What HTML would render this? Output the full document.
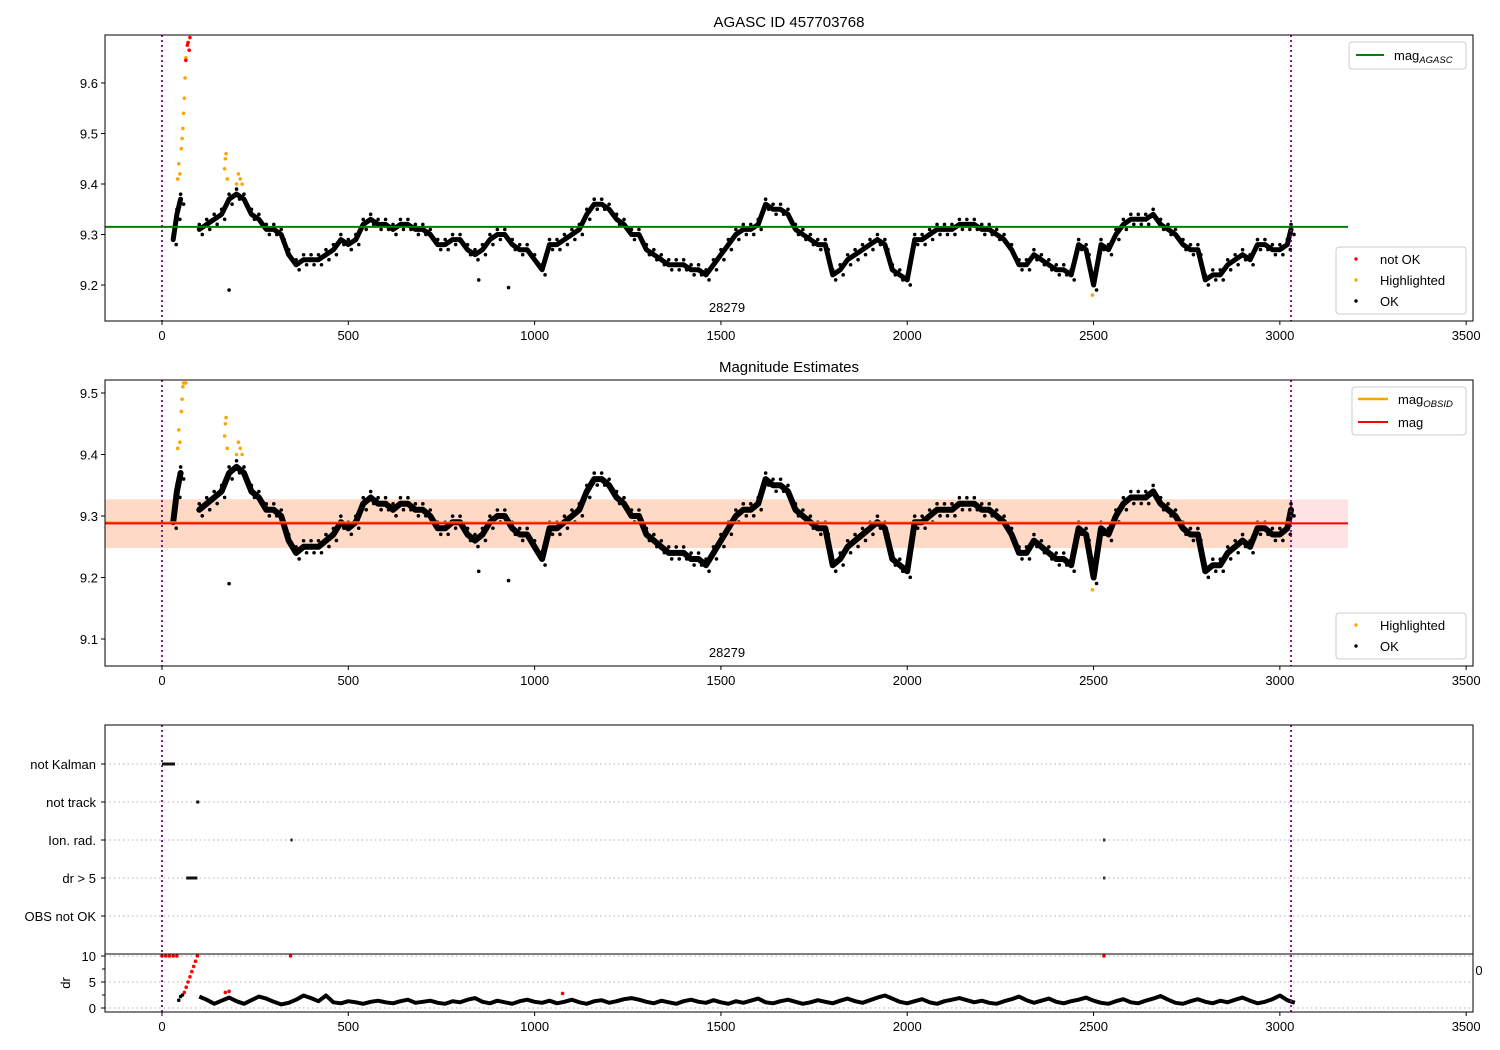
<!DOCTYPE html>
<html><head><meta charset="utf-8"><style>
body{margin:0;background:#fff}
svg{display:block;font-family:"Liberation Sans","DejaVu Sans",sans-serif}
</style></head><body>
<svg id="c" width="1500" height="1050" viewBox="0 0 1500 1050">
<g id="g"></g>
</svg>
<script>
// ---- data ----
const magT = [30,40,50,100,120,140,160,180,200,220,240,260,280,300,320,340,360,380,400,420,440,460,480,500,520,540,560,580,600,620,640,660,680,700,720,740,760,780,800,820,840,860,880,900,920,940,960,980,1000,1020,1040,1060,1080,1100,1120,1140,1160,1180,1200,1220,1240,1260,1280,1300,1320,1340,1360,1380,1400,1420,1440,1460,1480,1500,1520,1540,1560,1580,1600,1620,1640,1660,1680,1700,1720,1740,1760,1780,1800,1820,1840,1860,1880,1900,1920,1940,1960,1980,2000,2020,2040,2060,2080,2100,2120,2140,2160,2180,2200,2220,2240,2260,2280,2300,2320,2340,2360,2380,2400,2420,2440,2460,2480,2500,2520,2540,2560,2580,2600,2620,2640,2660,2680,2700,2720,2740,2760,2780,2800,2820,2840,2860,2880,2900,2920,2940,2960,2980,3000,3020,3030];
const magV = [9.29,9.34,9.37,9.31,9.32,9.33,9.34,9.37,9.38,9.37,9.34,9.33,9.31,9.31,9.30,9.26,9.24,9.25,9.25,9.25,9.26,9.27,9.29,9.28,9.29,9.32,9.33,9.32,9.32,9.31,9.32,9.32,9.31,9.31,9.30,9.28,9.28,9.29,9.29,9.27,9.26,9.27,9.29,9.30,9.30,9.28,9.27,9.27,9.25,9.23,9.28,9.28,9.29,9.30,9.31,9.34,9.36,9.36,9.35,9.33,9.32,9.30,9.30,9.27,9.26,9.25,9.24,9.24,9.24,9.23,9.23,9.22,9.24,9.26,9.28,9.30,9.31,9.31,9.32,9.36,9.35,9.35,9.34,9.31,9.30,9.29,9.28,9.28,9.22,9.23,9.25,9.26,9.27,9.28,9.29,9.28,9.23,9.22,9.21,9.29,9.29,9.30,9.31,9.31,9.31,9.32,9.32,9.32,9.31,9.31,9.30,9.29,9.27,9.24,9.24,9.26,9.25,9.24,9.23,9.23,9.22,9.28,9.27,9.20,9.28,9.27,9.30,9.32,9.33,9.33,9.33,9.34,9.32,9.31,9.30,9.28,9.27,9.27,9.21,9.22,9.22,9.24,9.25,9.26,9.25,9.28,9.28,9.27,9.27,9.28,9.31];
const outT = [180,850,930];
const outV = [9.19,9.21,9.195];
const hiT = [42,45,48,52,54,56,58,60,62,64,168,170,172,175,200,205,210,215,2497];
const hiV = [9.41,9.44,9.42,9.47,9.49,9.51,9.54,9.57,9.61,9.65,9.43,9.45,9.46,9.41,9.40,9.42,9.41,9.40,9.18];
const badT = [64,68,70,73,75];
const badV = [9.645,9.675,9.68,9.665,9.69];
const magAgasc = 9.315;
const magObs = 9.288, magLo = 9.248, magHi = 9.327;
const xTicks = [0,500,1000,1500,2000,2500,3000,3500];
const y1Ticks = [9.2,9.3,9.4,9.5,9.6];
const y2Ticks = [9.1,9.2,9.3,9.4,9.5];
const flagCats = ["not Kalman","not track","Ion. rad.","dr > 5","OBS not OK"];
const flagStart = [0,92,345,65,null];
const flagEnd = [35,100,347,95,null];
const flagExtraT = [null,null,2528,2528,null];
const drT = [0,10,20,30,40,45,50,55,60,65,70,75,80,85,90,95,170,180,345,1075,2528];
const drV = [10,10,10,10,10,1.5,2.2,2.5,3,4,5,6,7,8,9,10,3,3.2,10,2.8,10];
const drRed = [1,1,1,1,1,0,0,0,1,1,1,1,1,1,1,1,1,1,1,1,1];
const dr2T = [];
const dr2V = [2.2,1.6,0.8,1.4,2.0,1.3,0.8,1.5,2.2,1.8,1.2,0.7,1.0,1.6,2.4,1.9,1.3,2.4,1.1,0.9,1.3,1.1,0.8,1.2,1.4,1.1,0.9,1.3,1.6,1.0,1.2,1.4,1.0,0.8,1.3,1.1,1.6,1.9,1.2,0.9,1.4,1.1,0.8,1.3,1.6,1.2,1.0,1.4,0.9,1.2,1.6,1.1,0.8,1.3,1.5,1.0,1.3,1.7,1.9,1.6,1.2,0.9,1.4,1.1,0.8,1.3,1.6,1.2,1.0,1.5,1.1,0.8,1.3,1.0,1.4,1.8,1.1,0.9,1.3,1.6,1.2,0.8,1.1,1.5,1.2,0.9,1.4,1.8,1.3,1.0,1.5,2.0,2.4,1.8,1.2,0.9,1.3,1.7,1.1,0.8,1.3,1.6,1.9,1.5,1.1,1.4,1.0,0.8,1.3,1.7,2.2,1.5,1.0,1.4,1.8,1.2,0.9,1.3,1.6,2.0,1.4,1.0,0.8,1.3,1.7,1.1,0.9,1.4,1.8,2.3,1.6,1.0,0.8,1.3,1.7,1.2,0.9,1.4,1.1,1.6,2.0,1.4,0.9,1.2,1.7,2.4,1.5,1.0];
for(let i=0;i<dr2V.length;i++) dr2T.push(100+i*20);

// ---- scales ----
const X = t => 162 + t*0.37262;
const Y1 = m => 83 + (9.6-m)*505;
const Y2 = m => 393 + (9.5-m)*615;
const Yc = i => 764 + i*38;
const Yd = v => 1008 - v*5.2;

const NS="http://www.w3.org/2000/svg";
const G=document.getElementById('g');
function mk(tag,attrs,parent){const e=document.createElementNS(NS,tag);for(const k in attrs)e.setAttribute(k,attrs[k]);(parent||G).appendChild(e);return e;}
function txt(s,x,y,anchor,size,parent){const e=mk('text',{x:x,y:y,'text-anchor':anchor||'middle','font-size':size||14,fill:'#000'},parent);e.textContent=s;return e;}

const defs=mk('defs',{});
const c1=mk('clipPath',{id:'cp1'},defs);mk('rect',{x:105,y:35,width:1368,height:286},c1);
const c2=mk('clipPath',{id:'cp2'},defs);mk('rect',{x:105,y:380,width:1368,height:286},c2);
const c3=mk('clipPath',{id:'cp3'},defs);mk('rect',{x:105,y:953,width:1368,height:59},c3);

function scatterPanel(Y,clip,showBad,sw,off,name){
  const g=mk('g',{'clip-path':'url(#'+clip+')'});
  
  
  let seg=[];
  const segs=[];
  for(let i=0;i<magT.length;i++){
    if(i>0 && magT[i]-magT[i-1]>30){segs.push(seg);seg=[];}
    seg.push(X(magT[i]).toFixed(1)+','+Y(magV[i]).toFixed(1));
  }
  segs.push(seg);
  segs.forEach(s=>{
    const p=mk('polyline',{points:s.join(' '),fill:'none',stroke:'#000','stroke-width':sw,'stroke-linejoin':'round','stroke-linecap':'round'},g);
    
    
  });
  for(let i=0;i<magT.length;i++){
    const d=mk('circle',{cx:X(magT[i]),cy:Y(magV[i])-off,r:1.8,fill:'#000'},g);
    
    
    const d2=mk('circle',{cx:X(magT[i])+3,cy:Y(magV[i])+off,r:1.8,fill:'#000'},g);
    
    
  }
  for(let i=0;i<outT.length;i++){
    const d=mk('circle',{cx:X(outT[i]),cy:Y(outV[i]),r:1.8,fill:'#000'},g);
    
    
  }
  for(let i=0;i<hiT.length;i++){
    const d=mk('circle',{cx:X(hiT[i]),cy:Math.max(Y(hiV[i]),clip==='cp2'?383:0),r:1.8,fill:'orange'},g);
    
    
  }
  if(showBad){
    for(let i=0;i<badT.length;i++){
      const d=mk('circle',{cx:X(badT[i]),cy:Y(badV[i]),r:1.8,fill:'red'},g);
      
      
    }
  }
}

function xAxis(yBottom,name){
  xTicks.forEach(t=>{
    mk('line',{x1:X(t),x2:X(t),y1:yBottom,y2:yBottom+4,stroke:'#000'});
    const l=txt(String(t),X(t),yBottom+19,'middle',13);
    
    
  });
}
function vlines(y0,y1){
  [0,3030].forEach(t=>{
    mk('line',{x1:X(t),x2:X(t),y1:y0,y2:y1,stroke:'purple','stroke-width':1.8,'stroke-dasharray':'2,3'});
  });
}

// ---- panel 1 ----
mk('rect',{x:105,y:35,width:1368,height:286,fill:'#fff'});
scatterPanel(Y1,'cp1',true,5,5,'panel1');
const gl=mk('line',{x1:105,x2:1348,y1:Y1(magAgasc),y2:Y1(magAgasc),stroke:'green','stroke-width':2});


vlines(35,321);
mk('rect',{x:105,y:35,width:1368,height:286,fill:'none',stroke:'#000','stroke-width':1});
y1Ticks.forEach(v=>{mk('line',{x1:101,x2:105,y1:Y1(v),y2:Y1(v),stroke:'#000'});const l=txt(v.toFixed(1),98,Y1(v)+5,'end',13);});
xAxis(321,'panel1');
const t1=txt('AGASC ID 457703768',789,27,'middle',15);
txt('28279',727,312,'middle',13);

// legends panel 1
const lg1=mk('g',{});
mk('rect',{x:1349,y:42,width:117,height:27,rx:3,fill:'#fff',stroke:'#ccc'},lg1);
mk('line',{x1:1356,x2:1384,y1:55,y2:55,stroke:'green','stroke-width':2},lg1);
const ta=txt('',1394,60,'start',13,lg1);ta.innerHTML='mag<tspan font-size="9.5" font-style="italic" dy="3">AGASC</tspan>';
const lg2=mk('g',{});
mk('rect',{x:1336,y:247,width:130,height:67,rx:3,fill:'#fff',stroke:'#ccc'},lg2);
mk('circle',{cx:1356,cy:259,r:1.7,fill:'red'},lg2);txt('not OK',1380,264,'start',13,lg2);
mk('circle',{cx:1356,cy:280,r:1.7,fill:'orange'},lg2);txt('Highlighted',1380,285,'start',13,lg2);
mk('circle',{cx:1356,cy:301,r:1.7,fill:'#000'},lg2);txt('OK',1380,306,'start',13,lg2);

// ---- panel 2 ----
const bandP=mk('rect',{x:105,y:Y2(magHi),width:1348-105,height:Y2(magLo)-Y2(magHi),fill:'#ffe3e4'});

const bandO=mk('rect',{x:105,y:Y2(magHi),width:X(3030)-105,height:Y2(magLo)-Y2(magHi),fill:'#fdd9c6'});

scatterPanel(Y2,'cp2',false,6,6,'panel2');
mk('line',{x1:105,x2:X(3030),y1:Y2(magObs)-1,y2:Y2(magObs)-1,stroke:'orange','stroke-width':2});
const rl=mk('line',{x1:105,x2:1348,y1:Y2(magObs),y2:Y2(magObs),stroke:'red','stroke-width':2});

vlines(380,666);
mk('rect',{x:105,y:380,width:1368,height:286,fill:'none',stroke:'#000'});
y2Ticks.forEach(v=>{mk('line',{x1:101,x2:105,y1:Y2(v),y2:Y2(v),stroke:'#000'});const l=txt(v.toFixed(1),98,Y2(v)+5,'end',13);});
xAxis(666,'panel2');
const t2=txt('Magnitude Estimates',789,372,'middle',15);
txt('28279',727,657,'middle',13);
const lg3=mk('g',{});
mk('rect',{x:1352,y:387,width:114,height:48,rx:3,fill:'#fff',stroke:'#ccc'},lg3);
mk('line',{x1:1358,x2:1388,y1:399,y2:399,stroke:'orange','stroke-width':2.5},lg3);
const tb=txt('',1398,404,'start',13,lg3);tb.innerHTML='mag<tspan font-size="9.5" font-style="italic" dy="3">OBSID</tspan>';
mk('line',{x1:1358,x2:1388,y1:422,y2:422,stroke:'red','stroke-width':2},lg3);txt('mag',1398,427,'start',13,lg3);
const lg4=mk('g',{});
mk('rect',{x:1336,y:613,width:130,height:46,rx:3,fill:'#fff',stroke:'#ccc'},lg4);
mk('circle',{cx:1356,cy:625,r:1.7,fill:'orange'},lg4);txt('Highlighted',1380,630,'start',13,lg4);
mk('circle',{cx:1356,cy:646,r:1.7,fill:'#000'},lg4);txt('OK',1380,651,'start',13,lg4);

// ---- panel 3 flags ----
flagCats.forEach((c,i)=>{
  mk('line',{x1:105,x2:1473,y1:Yc(i),y2:Yc(i),stroke:'#b0b0b0','stroke-dasharray':'1.5,3'});
  mk('line',{x1:101,x2:105,y1:Yc(i),y2:Yc(i),stroke:'#000'});
  const l=txt(c,96,Yc(i)+5,'end',13);
  if(flagStart[i]!==null){
    const r=mk('rect',{x:X(flagStart[i]),y:Yc(i)-1.5,width:Math.max(2,X(flagEnd[i])-X(flagStart[i])),height:3,fill:'#111'});
    
  }
  if(flagExtraT[i]!==null){
    const r=mk('rect',{x:X(flagExtraT[i])-1,y:Yc(i)-1.5,width:2.5,height:3,fill:'#333'});
    
  }
});
// dr inset
[0,5,10].forEach(v=>{mk('line',{x1:105,x2:1473,y1:Yd(v),y2:Yd(v),stroke:'#b0b0b0','stroke-dasharray':'1.5,3'});
  mk('line',{x1:101,x2:105,y1:Yd(v),y2:Yd(v),stroke:'#000'});
  const l=txt(String(v),96,Yd(v)+5,'end',13);});
[2.5,7.5].forEach(v=>mk('line',{x1:102,x2:105,y1:Yd(v),y2:Yd(v),stroke:'#000'}));
const drg=mk('g',{'clip-path':'url(#cp3)'});
let pts=[];
for(let i=0;i<dr2T.length;i++) pts.push(X(dr2T[i]).toFixed(1)+','+Yd(dr2V[i]).toFixed(1));
mk('polyline',{points:pts.join(' '),fill:'none',stroke:'#000','stroke-width':4,'stroke-linejoin':'round'},drg);
for(let i=0;i<drT.length;i++){
  const d=mk('circle',{cx:X(drT[i]),cy:Yd(drV[i]),r:1.8,fill:drRed[i]?'red':'#000'},drg);
  
}
const dl=txt('dr',70,983,'middle',13);dl.setAttribute('transform','rotate(-90 70 983)');
vlines(725,1012);
mk('rect',{x:105,y:725,width:1368,height:287,fill:'none',stroke:'#000'});
mk('line',{x1:105,x2:1473,y1:954,y2:954,stroke:'#000'});
txt('0',1479,975,'middle',13);
xAxis(1012,'panel3');
</script>
</body></html>
